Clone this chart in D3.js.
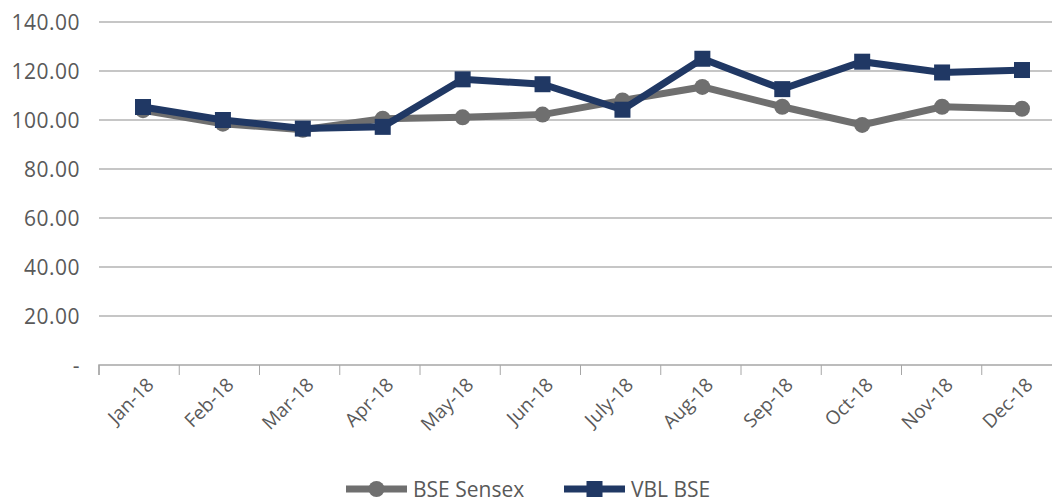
<!DOCTYPE html>
<html>
<head>
<meta charset="utf-8">
<script src="https://cdn.jsdelivr.net/npm/d3@7"></script>
<style>
  body { margin: 0; background: #fff; }
  svg text { font-family: "Open Sans", Lato, sans-serif; fill: #595959; }
</style>
</head>
<body>
<svg id="chart" width="1052" height="497"></svg>
<script>
var months = ["Jan-18","Feb-18","Mar-18","Apr-18","May-18","Jun-18","July-18","Aug-18","Sep-18","Oct-18","Nov-18","Dec-18"];
var sensex = [104.0, 98.5, 96.0, 100.5, 101.1, 102.2, 108.0, 113.5, 105.4, 98.0, 105.4, 104.6];
var vbl = [105.3, 100.0, 96.5, 97.2, 116.6, 114.6, 104.2, 125.0, 112.6, 123.8, 119.4, 120.4];
var yTicks = [0, 20, 40, 60, 80, 100, 120, 140];

var svg = d3.select('#chart');
var plotLeft = 99, plotRight = 1062, plotTop = 22, plotBottom = 365;
var grayCol = "#6f6f6f", navyCol = "#203864";

// ticks sit on band edges, markers a touch right of band centre (as in the original)
var xBand = d3.scaleBand().domain(months).range([plotLeft, plotRight]);
var x = d3.scalePoint().domain(months).range([143, 1022]);
var y = d3.scaleLinear().domain([0, 140]).range([plotBottom, plotTop]);

// gridlines
svg.append("g")
    .selectAll("line")
    .data(yTicks.filter(function (d) { return d > 0; }))
    .enter().append("line")
        .attr("x1", plotLeft).attr("x2", 1052)
        .attr("y1", function (d) { return y(d); })
        .attr("y2", function (d) { return y(d); })
        .attr("stroke", "#b3b3b3")
        .attr("stroke-width", 1.5);

// y labels
svg.append("g")
    .selectAll("text")
    .data(yTicks)
    .enter().append("text")
        .attr("x", 80)
        .attr("y", function (d) { return y(d) + 7.5; })
        .attr("text-anchor", "end")
        .style("font-size", "21px")
        .style("letter-spacing", "0.5px")
        .text(function (d) { return d == 0 ? "-" : d.toFixed(2); });

// x axis
var xAxis = d3.axisBottom(xBand).tickSize(10).tickFormat("");
var gx = svg.append("g")
    .attr("transform", "translate(0," + plotBottom + ")")
    .call(xAxis);
gx.select(".domain").attr("stroke", "#a6a6a6").attr("stroke-width", 1.5)
    .attr("d", "M" + plotLeft + ",10V0H1052");
gx.selectAll(".tick line")
    .attr("stroke", "#a6a6a6")
    .attr("transform", "translate(" + (-xBand.bandwidth() / 2) + ",0)");

svg.append("g")
    .selectAll("text")
    .data(months)
    .enter().append("text")
        .attr("text-anchor", "end")
        .attr("transform", function (d) {
            return "translate(" + (x(d) + 12) + ",386) rotate(-45)";
        })
        .style("font-size", "19px")
        .text(function (d) { return d; });

var cx = function (d, i) { return x(months[i]); };
var line = d3.line().x(cx).y(function (d) { return y(d); });

// BSE Sensex
svg.append("path")
    .datum(sensex)
    .attr("d", line)
    .attr("fill", "none")
    .attr("stroke", grayCol)
    .attr("stroke-width", 7);
svg.append("g")
    .selectAll("circle")
    .data(sensex)
    .enter().append("circle")
        .attr("cx", cx)
        .attr("cy", function (d) { return y(d); })
        .attr("r", 8)
        .attr("fill", grayCol);

// VBL BSE
svg.append("path")
    .datum(vbl)
    .attr("d", line)
    .attr("fill", "none")
    .attr("stroke", navyCol)
    .attr("stroke-width", 7);
svg.append("g")
    .selectAll("rect")
    .data(vbl)
    .enter().append("rect")
        .attr("x", function (d, i) { return cx(d, i) - 8; })
        .attr("y", function (d) { return y(d) - 8; })
        .attr("width", 16)
        .attr("height", 16)
        .attr("fill", navyCol);

// legend
var legend = [
    { name: "BSE Sensex", color: grayCol, shape: "circle", x: 346 },
    { name: "VBL BSE", color: navyCol, shape: "rect", x: 564 }
];
var ly = 489;
legend.forEach(function (l) {
    svg.append("line")
        .attr("x1", l.x).attr("x2", l.x + 61)
        .attr("y1", ly).attr("y2", ly)
        .attr("stroke", l.color).attr("stroke-width", 7);
    if (l.shape == "circle") {
        svg.append("circle").attr("cx", l.x + 30.5).attr("cy", ly).attr("r", 8).attr("fill", l.color);
    } else {
        svg.append("rect").attr("x", l.x + 22.5).attr("y", ly - 8).attr("width", 16).attr("height", 16).attr("fill", l.color);
    }
    svg.append("text")
        .attr("x", l.x + 67)
        .attr("y", ly + 8)
        .style("font-size", "21px")
        .text(l.name);
});
</script>
</body>
</html>
